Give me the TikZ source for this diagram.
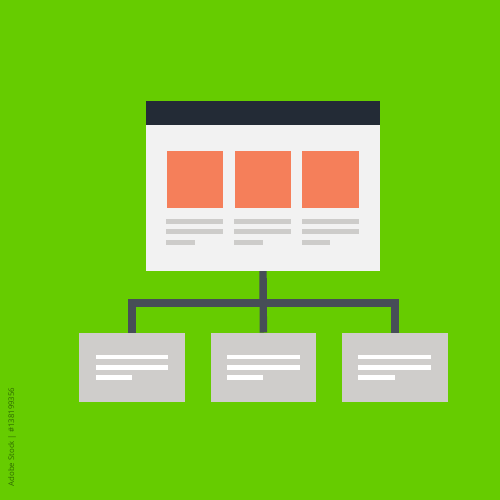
\documentclass[tikz,border=0pt]{standalone}
\usepackage{fontspec}
\setsansfont{Open Sans}
\usetikzlibrary{positioning}
\definecolor{bggreen}{HTML}{66CC00}
\definecolor{bardark}{HTML}{232B36}
\definecolor{pagegray}{HTML}{F2F2F2}
\definecolor{tileorange}{HTML}{F57F5A}
\definecolor{linegray}{HTML}{CDCCCA}
\definecolor{wiregray}{HTML}{474E57}
\definecolor{boxgray}{HTML}{CFCDCB}
\definecolor{markgreen}{HTML}{2F6A00}
\tikzset{
  page/.style={fill=pagegray, inner sep=0pt, minimum width=233.5pt, minimum height=170pt},
  tile/.style={fill=tileorange, inner sep=0pt, minimum size=56.7pt},
  child/.style={fill=boxgray, inner sep=0pt, minimum width=105.4pt, minimum height=69pt},
  wire/.style={draw=wiregray, line width=7.4pt, line join=miter},
  textbar/.style={fill=linegray},
  whitebar/.style={fill=white}
}
\begin{document}
\begin{tikzpicture}[x=1pt, y=-1pt]

\fill[bggreen] (0,0) rectangle (500,500);

\node[page] (win) at (263,186) {};
\fill[bardark] (win.north west) rectangle ([yshift=-24pt]win.north east);

\foreach \i/\x in {1/195, 2/263, 3/330.7}{
\node[tile] (sq\i) at (\x,179.3) {};
\fill[textbar] ([yshift=-11.3pt]sq\i.south west) rectangle ++(56.7,5);
\fill[textbar] ([yshift=-21.6pt]sq\i.south west) rectangle ++(56.7,5);
\fill[textbar] ([yshift=-32pt]sq\i.south west) rectangle ++(28.3,5.3);
}

\node[child] (leftbox) at (132,367.2) {};
\node[child, right=25.6pt of leftbox] (midbox) {};
\node[child, right=25.6pt of midbox] (rightbox) {};

\foreach \b in {leftbox, midbox, rightbox}{
\fill[whitebar] ([xshift=16.4pt, yshift=-22pt]\b.north west) rectangle ++(72.6,4.6);
\fill[whitebar] ([xshift=16.4pt, yshift=-32.3pt]\b.north west) rectangle ++(72.6,5);
\fill[whitebar] ([xshift=16.4pt, yshift=-42.6pt]\b.north west) rectangle ++(36.3,5);
}

\coordinate (bus) at (263,303);
\draw[wire] (win.south) -- (midbox.north);
\draw[wire] (leftbox.north) |- (bus) -| (rightbox.north);

\node[rotate=90, text=markgreen, font=\sffamily\fontsize{7.8}{8}\selectfont] (stockmark) at (12,437) {Adobe Stock | \#138199356};
\end{tikzpicture}
\end{document}
